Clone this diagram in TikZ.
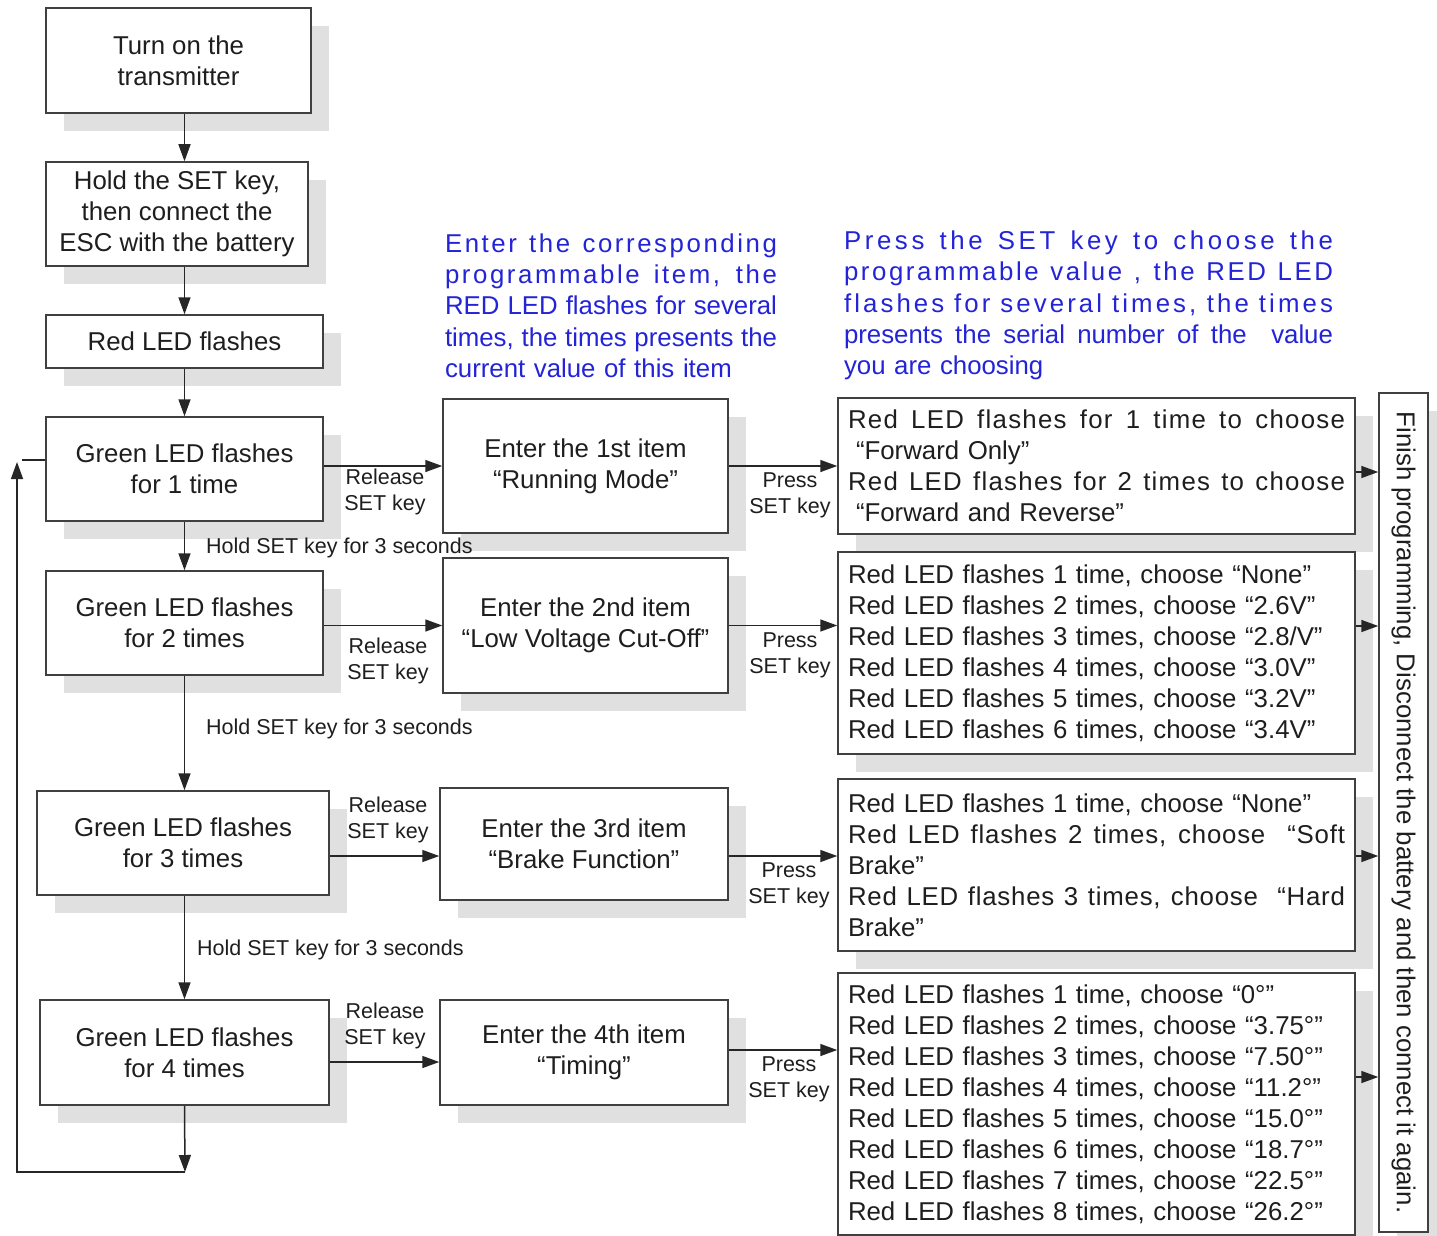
\documentclass[tikz,border=0pt]{standalone}
\usepackage{fontspec}
\setmainfont{Liberation Sans}
\usetikzlibrary{arrows.meta,shadows}
\definecolor{notablue}{RGB}{35,35,215}
\definecolor{txt}{RGB}{30,30,30}
\newcommand\fullln[2]{\makebox[#1][s]{\spaceskip=.278em plus 1fil\relax #2}}
\newcommand\spreadln[3]{\makebox[#1][s]{\addfontfeature{LetterSpace=#2}\spaceskip=.278em plus 1fil\relax #3}}

\begin{document}
\begin{tikzpicture}[x=1pt, y=-1pt,
		box/.style={draw=black!75, line width=1.5pt, fill=white, text=txt, align=center, inner sep=0pt,
			font=\fontsize{25.8}{31}\selectfont,
			drop shadow={shadow xshift=18pt, shadow yshift=-18pt, fill=black!12, opacity=1}},
		val/.style={box, align=left, text width=497pt, minimum width=517pt},
		lbl/.style={text=txt, align=center, inner sep=0pt, font=\fontsize{21.5}{26}\selectfont},
		nota/.style={text=notablue, align=left, inner sep=0pt, font=\fontsize{25.8}{31.3}\selectfont},
		arr/.style={draw=black!85, line width=1.5pt, -{Triangle[length=17pt, width=12pt]}}]
		\path[use as bounding box, fill=white] (0,0) rectangle (1437,1236);
		
		% Columna izq
		\node[box, minimum width=265pt, minimum height=105pt] (txon) at (178.5,60.5) {Turn on the\\transmitter};
		\node[box, minimum width=262pt, minimum height=104pt] (hold) at (177,214) {Hold the SET key,\\then connect the\\ESC with the battery};
		\node[box, minimum width=277pt, minimum height=53pt] (redled) at (184.5,341.5) {Red LED flashes};
		\node[box, minimum width=277pt, minimum height=104pt] (g1) at (184.5,469) {Green LED flashes\\for 1 time};
		\node[box, minimum width=277pt, minimum height=104pt] (g2) at (184.5,623) {Green LED flashes\\for 2 times};
		\node[box, minimum width=292pt, minimum height=104pt] (g3) at (183,843) {Green LED flashes\\for 3 times};
		\node[box, minimum width=289pt, minimum height=105pt] (g4) at (184.5,1052.5) {Green LED flashes\\for 4 times};
		\foreach \a/\b in {txon/hold, hold/redled, redled/g1, g1/g2, g2/g3, g3/g4}{
			\draw[arr] (\a.south -| redled) -- (\b.north -| redled);}
		
		% Vuelta
		\coordinate (loopc) at (185,1172);
		\coordinate (loopl) at (17,1172);
		\coordinate (looptop) at (17,462);
		\coordinate (loopin) at (22,460);
		\draw[arr] (g4.south -| redled) -- (loopc);
		\draw[arr] (loopc) -- (loopl) -- (looptop);
		\draw[draw=black!85, line width=1.5pt] (loopin) -- (loopin -| g1.west);
		
		% Items
		\node[box, minimum width=285pt, minimum height=134pt] (item1) at (585.5,466) {Enter the 1st item\\“Running Mode”};
		\node[box, minimum width=285pt, minimum height=135pt] (item2) at (585.5,625.5) {Enter the 2nd item\\“Low Voltage Cut-Off”};
		\node[box, minimum width=288pt, minimum height=112pt] (item3) at (584,844) {Enter the 3rd item\\“Brake Function”};
		\node[box, minimum width=288pt, minimum height=105pt] (item4) at (584,1052.5) {Enter the 4th item\\“Timing”};
		\draw[arr] (g1.east |- item1) -- (item1);
		\draw[arr] (g2.east |- item2) -- (item2);
		\draw[arr] ([yshift=-13pt]g3.east) -- ([yshift=-13pt]g3.east -| item3.west);
		\draw[arr] ([yshift=-9.5pt]g4.east) -- ([yshift=-9.5pt]g4.east -| item4.west);
		\node[lbl] (rel1) at (385,492) {Release\\SET key};
		\node[lbl] (rel2) at (388,661) {Release\\SET key};
		\node[lbl] (rel3) at (388,820) {Release\\SET key};
		\node[lbl] (rel4) at (385,1026) {Release\\SET key};
		\node[lbl, anchor=west] (hs1) at (206,548) {Hold SET key for 3 seconds};
		\node[lbl, anchor=west] (hs2) at (206,729) {Hold SET key for 3 seconds};
		\node[lbl, anchor=west] (hs3) at (197,950) {Hold SET key for 3 seconds};
		
		% Valores
		\node[val, minimum height=136pt] (val1) at (1096.5,466) {%
			\spreadln{497pt}{5}{Red LED flashes for 1 time to choose}\\
			\hspace*{8pt}“Forward Only”\\
			\spreadln{497pt}{5}{Red LED flashes for 2 times to choose}\\
			\hspace*{8pt}“Forward and Reverse”};
		\node[val, minimum height=202pt] (val2) at (1096.5,653) {%
			Red LED flashes 1 time, choose “None”\\
			Red LED flashes 2 times, choose “2.6V”\\
			Red LED flashes 3 times, choose “2.8/V”\\
			Red LED flashes 4 times, choose “3.0V”\\
			Red LED flashes 5 times, choose “3.2V”\\
			Red LED flashes 6 times, choose “3.4V”};
		\node[val, minimum height=172pt] (val3) at (1096.5,865) {%
			Red LED flashes 1 time, choose “None”\\
			\spreadln{497pt}{3}{Red LED flashes 2 times, choose \ “Soft}\\
			Brake”\\
			\spreadln{497pt}{3}{Red LED flashes 3 times, choose \ “Hard}\\
			Brake”};
		\node[val, minimum height=262pt] (val4) at (1096.5,1104) {%
			Red LED flashes 1 time, choose “0°”\\
			Red LED flashes 2 times, choose “3.75°”\\
			Red LED flashes 3 times, choose “7.50°”\\
			Red LED flashes 4 times, choose “11.2°”\\
			Red LED flashes 5 times, choose “15.0°”\\
			Red LED flashes 6 times, choose “18.7°”\\
			Red LED flashes 7 times, choose “22.5°”\\
			Red LED flashes 8 times, choose “26.2°”};
		\draw[arr] (item1) -- (val1);
		\draw[arr] (item2) -- (item2 -| val2.west);
		\draw[arr] ([yshift=-12pt]item3.east) -- ([yshift=-12pt]item3.east -| val3.west);
		\draw[arr] ([yshift=2.5pt]item4.east) -- ([yshift=2.5pt]item4.east -| val4.west);
		\node[lbl] (pr1) at (790,495) {Press\\SET key};
		\node[lbl] (pr2) at (790,655) {Press\\SET key};
		\node[lbl] (pr3) at (789,885) {Press\\SET key};
		\node[lbl] (pr4) at (789,1079) {Press\\SET key};
		
		% Fin
		\node[box, minimum width=49pt, minimum height=839pt] (fin) at (1403.5,812.5) {\rotatebox{-90}{Finish programming, Disconnect the battery and then connect it again.}};
		\foreach \v/\s in {val1/-6, val2/27, val3/9, val4/27}{
			\draw[arr] ([yshift=\s pt]\v.east) -- ([yshift=\s pt]\v.east -| fin.west);}
		
		% Notas
		\node[nota, text width=332pt] (nota1) at (611,305.5) {%
			\spreadln{332pt}{10}{Enter the corresponding}\\
			\spreadln{332pt}{10}{programmable item, the}\\
			\fullln{332pt}{RED LED flashes for several}\\
			\fullln{332pt}{times, the times presents the}\\
			current value of this item};
		\node[nota, text width=489pt] (nota2) at (1088.5,305.5) {%
			\spreadln{489pt}{14}{Press the SET key to choose the}\\
			\spreadln{489pt}{10}{programmable value , the RED LED}\\
			\spreadln{489pt}{12}{flashes for several times, the times}\\
			\fullln{489pt}{presents the serial number of the \ value}\\
			you are choosing};
	\end{tikzpicture}
\end{document}
